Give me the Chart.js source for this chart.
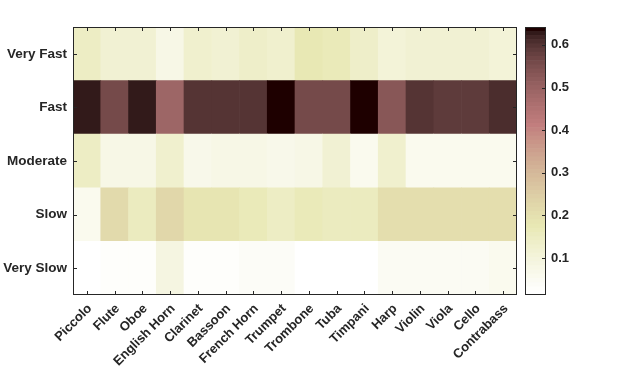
<!DOCTYPE html>
<html>
<head>
<meta charset="utf-8">
<script src="https://cdn.jsdelivr.net/npm/chart.js@4"></script>
<style>
  html, body { margin: 0; padding: 0; background: #fff; }
  #wrap { position: relative; width: 620px; height: 373px; }
  #wrap canvas { position: absolute; left: 0; top: 0; }
</style>
</head>
<body>
<div id="wrap">
  <canvas id="heat" width="620" height="373"></canvas>
  <canvas id="cbar" width="620" height="373"></canvas>
</div>
<script>
// instruments along x, tempo bands along y (bottom to top)
const instruments = ["Piccolo", "Flute", "Oboe", "English Horn", "Clarinet", "Bassoon", "French Horn", "Trumpet",
    "Trombone", "Tuba", "Timpani", "Harp", "Violin", "Viola", "Cello", "Contrabass"];
const tempos = ["Very Slow", "Slow", "Moderate", "Fast", "Very Fast"];

const verySlow = [0.013, 0.03, 0.03, 0.085, 0.03, 0.03, 0.04, 0.035, 0.013, 0.013, 0.013, 0.05, 0.052, 0.052, 0.052, 0.055];
const slow     = [0.06, 0.21, 0.16, 0.22, 0.185, 0.185, 0.17, 0.15, 0.17, 0.16, 0.16, 0.2, 0.2, 0.2, 0.2, 0.2];
const moderate = [0.15, 0.08, 0.08, 0.13, 0.065, 0.075, 0.08, 0.065, 0.078, 0.12, 0.06, 0.13, 0.06, 0.06, 0.062, 0.062];
const fast     = [0.625, 0.56, 0.625, 0.49, 0.595, 0.595, 0.595, 0.64, 0.555, 0.555, 0.642, 0.53, 0.595, 0.585, 0.585, 0.605];
const veryFast = [0.15, 0.12, 0.12, 0.08, 0.13, 0.12, 0.14, 0.13, 0.18, 0.17, 0.14, 0.11, 0.12, 0.12, 0.115, 0.11];

const colorLimits = [0.013, 0.642];
const colorbarTicks = [0.1, 0.2, 0.3, 0.4, 0.5, 0.6];

const rows = [verySlow, slow, moderate, fast, veryFast];

// flipped "pink" colormap, 64 levels
const N = 64;
const pink = [];
for (let i = 0; i < N; i++) {
    const t = i / (N - 1);
    const rh = i < 24 ? (i + 1) / 24 : 1;
    const gh = i < 24 ? 0 : (i < 48 ? (i + 1 - 24) / 24 : 1);
    const bh = i < 48 ? 0 : (i + 1 - 48) / 16;
    const c = [rh, gh, bh].map(h => Math.round(255 * Math.sqrt((2 * t + h) / 3)));
    pink.push("rgb(" + c.join(",") + ")");
}
function colorFor(v) {
    let k = Math.floor((v - colorLimits[0]) / (colorLimits[1] - colorLimits[0]) * N);
    k = Math.max(0, Math.min(N - 1, k));
    return pink[N - 1 - k];
}

const txt = "#262626";
const fam = "'Liberation Sans', Arial, sans-serif";

const boxTicks = {
    id: "boxTicks",
    afterDraw(chart, args, opts) {
        const ctx = chart.ctx, a = chart.chartArea;
        ctx.save();
        ctx.strokeStyle = txt;
        ctx.lineWidth = 1;
        ctx.strokeRect(Math.round(a.left) + 0.5, Math.round(a.top) + 0.5,
            Math.round(a.right - a.left) - 1, Math.round(a.bottom - a.top) - 1);
        ctx.beginPath();
        const L = 4;
        if (opts.x) {
            const xs = chart.scales.x;
            xs.ticks.forEach((t, i) => {
                const px = Math.round(xs.getPixelForTick(i)) + 0.5;
                ctx.moveTo(px, a.top); ctx.lineTo(px, a.top + L);
                ctx.moveTo(px, a.bottom); ctx.lineTo(px, a.bottom - L);
            });
        }
        const ys = chart.scales.y;
        ys.ticks.forEach((t, i) => {
            const py = Math.round(ys.getPixelForValue(t.value)) + 0.5;
            if (opts.left) { ctx.moveTo(a.left, py); ctx.lineTo(a.left + L, py); }
            ctx.moveTo(a.right, py); ctx.lineTo(a.right - L, py);
        });
        ctx.stroke();
        ctx.restore();
    }
};

new Chart(document.getElementById("heat").getContext("2d"), {
    type: "bar",
    data: {
        labels: instruments,
        datasets: rows.map((vals, r) => ({
            label: tempos[r],
            data: vals.map(() => 1),
            backgroundColor: vals.map(colorFor),
            barPercentage: 1,
            categoryPercentage: 1,
            borderWidth: 0
        }))
    },
    options: {
        responsive: false,
        animation: false,
        layout: { padding: { top: 27, right: 103, left: 0, bottom: 0 } },
        plugins: { legend: { display: false }, tooltip: { enabled: false }, boxTicks: { x: true, left: true } },
        scales: {
            x: {
                stacked: true,
                grid: { display: false, drawTicks: false },
                border: { display: false },
                ticks: { color: txt, font: { family: fam, size: 13, weight: "bold" }, maxRotation: 45, minRotation: 45,
                    padding: 6, labelOffset: 3, autoSkip: false },
                afterFit(s) { s.height = 78; }
            },
            y: {
                stacked: true,
                min: 0, max: 5,
                grid: { display: false, drawTicks: false },
                border: { display: false },
                afterBuildTicks(s) { s.ticks = tempos.map((t, i) => ({ value: i + 0.5 })); },
                ticks: { color: txt, font: { family: fam, size: 13.5, weight: "bold" }, padding: 6,
                    callback: (v) => tempos[Math.floor(v)] },
                afterFit(s) { s.width = 73; }
            }
        }
    },
    plugins: [boxTicks]
});

// colorbar
const step = (colorLimits[1] - colorLimits[0]) / N;
const segs = [];
for (let i = 0; i < N; i++) segs.push([colorLimits[0] + i * step, colorLimits[0] + (i + 1) * step]);

new Chart(document.getElementById("cbar").getContext("2d"), {
    type: "bar",
    data: {
        labels: ["c"],
        datasets: segs.map(s => ({
            data: [s],
            backgroundColor: colorFor((s[0] + s[1]) / 2),
            barPercentage: 1,
            categoryPercentage: 1,
            grouped: false,
            borderWidth: 0
        }))
    },
    options: {
        responsive: false,
        animation: false,
        layout: { padding: { top: 27, left: 525, bottom: 78, right: 0 } },
        plugins: { legend: { display: false }, tooltip: { enabled: false }, boxTicks: { x: false, left: false } },
        scales: {
            x: { display: false },
            y: {
                position: "right",
                min: colorLimits[0], max: colorLimits[1],
                grid: { display: false, drawTicks: false },
                border: { display: false },
                afterBuildTicks(s) { s.ticks = colorbarTicks.map(v => ({ value: v })); },
                ticks: { color: txt, font: { family: fam, size: 13, weight: "bold" }, padding: 5,
                    callback: (v) => v.toFixed(1) },
                afterFit(s) { s.width = 74; }
            }
        }
    },
    plugins: [boxTicks]
});
</script>
</body>
</html>
